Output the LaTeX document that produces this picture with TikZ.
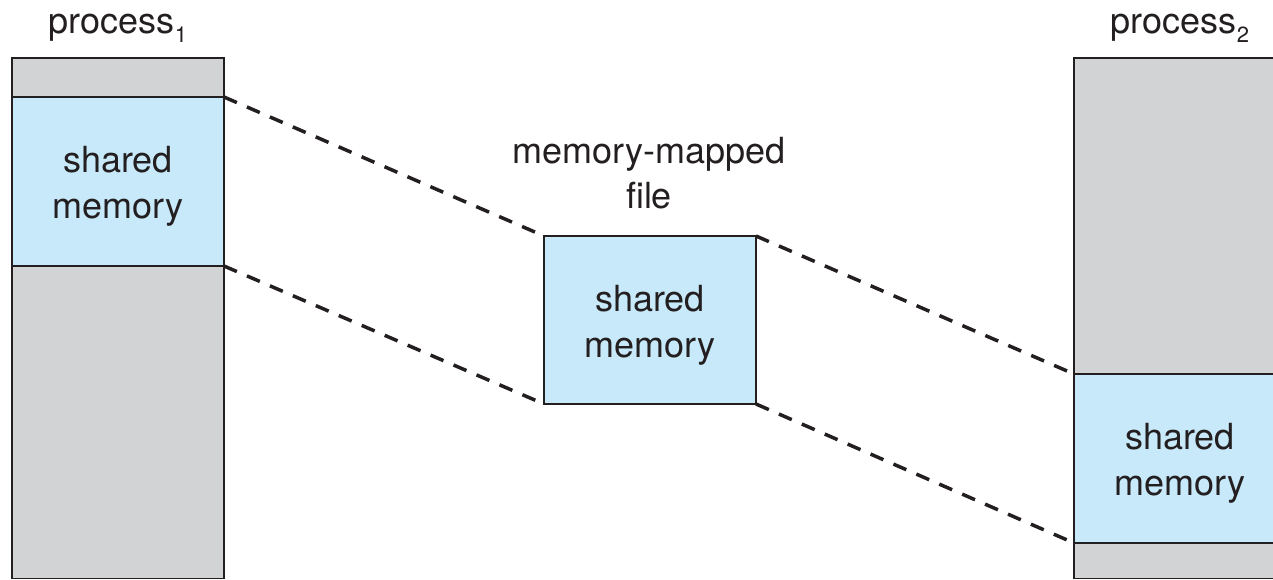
\documentclass[tikz,border=0pt]{standalone}
\usepackage{fontspec}
\setmainfont{TeX Gyre Heros}
\definecolor{memgray}{HTML}{D1D3D4}
\definecolor{memblue}{HTML}{C7E9F9}
\definecolor{edge}{HTML}{231F20}
\begin{document}
\begin{tikzpicture}[x=1pt,y=-1pt,
  region/.style={draw=edge,line width=1.5pt,inner sep=0pt,outer sep=0pt,minimum width=212pt},
  grayreg/.style={region,fill=memgray},
  bluereg/.style={region,fill=memblue},
  lbl/.style={text=edge,align=center,inner sep=0pt,font=\fontsize{36}{46}\selectfont},
  link/.style={draw=edge,line width=3.5pt,dash pattern=on 14pt off 11pt}
]
\clip (0,0) rectangle (1273,580);
% process 1
\node[grayreg,minimum height=39pt] (p1top) at (118,77.5) {};
\node[bluereg,minimum height=169pt] (p1shm) at (118,181.5) {};
\node[grayreg,minimum height=312.5pt] (p1bot) at (118,422.25) {};
% memory-mapped file
\node[bluereg,minimum height=168pt] (mm) at (650,320) {};
% process 2
\node[grayreg,minimum height=316pt] (p2top) at (1180,216) {};
\node[bluereg,minimum height=169pt] (p2shm) at (1180,458.5) {};
\node[grayreg,minimum height=35.5pt] (p2bot) at (1180,560.75) {};
% labels
\node[lbl] (t1) at ([yshift=-5pt]p1shm.center) {shared\\memory};
\node[lbl] (tm) at ([yshift=-5pt]mm.center) {shared\\memory};
\node[lbl] (t2) at ([yshift=-5pt]p2shm.center) {shared\\memory};
\node[lbl,font=\fontsize{36}{45}\selectfont,anchor=center] (mmf) at (649,173.5) {memory-mapped\\file};
\node[lbl,anchor=base] (pn1) at (118,34) {process\raisebox{-9pt}{\fontsize{22}{22}\selectfont 1}};
\node[lbl,anchor=base] (pn2) at (1180,34) {process\raisebox{-9pt}{\fontsize{22}{22}\selectfont 2}};
% dashed links
\draw[link] (p1shm.north east) -- (mm.north west);
\draw[link] (p1shm.south east) -- (mm.south west);
\draw[link] (mm.north east) -- (p2shm.north west);
\draw[link] (mm.south east) -- (p2shm.south west);
\end{tikzpicture}
\end{document}
